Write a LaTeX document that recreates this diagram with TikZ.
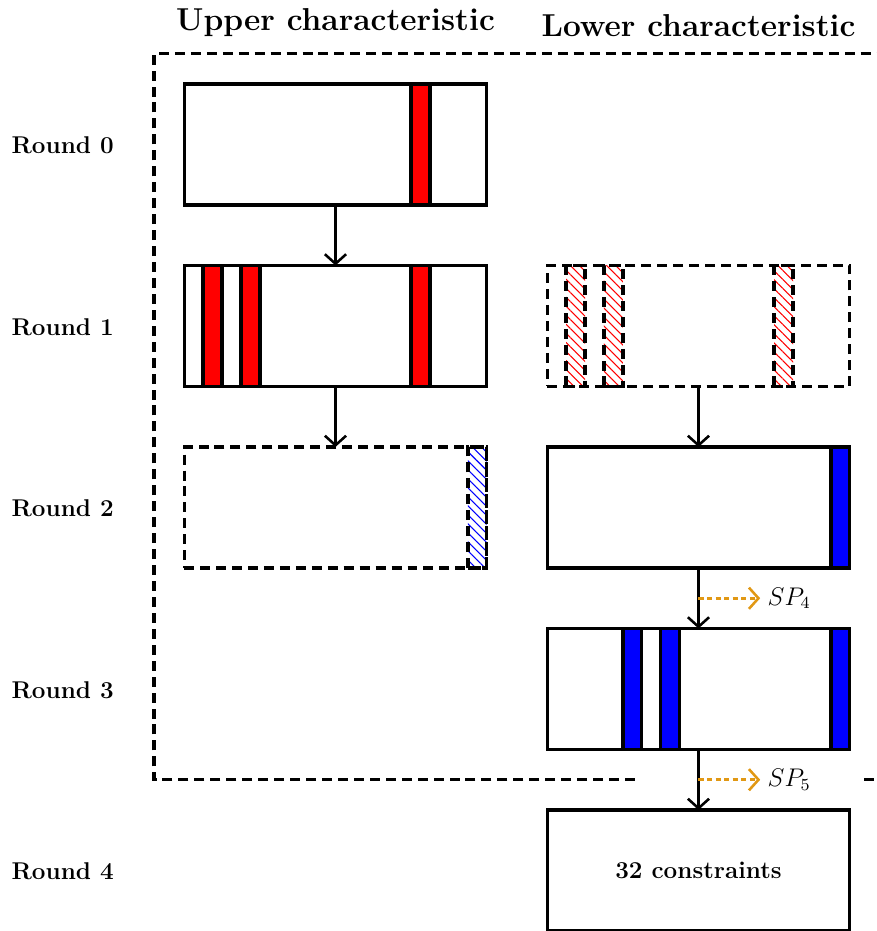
\documentclass[tikz,border=0pt]{standalone}
\usetikzlibrary{arrows.meta,patterns.meta}
\definecolor{spor}{RGB}{225,152,20}
\begin{document}
\begin{tikzpicture}[
  box/.style={draw, line width=1.6pt, minimum width=5cm, minimum height=2cm, inner sep=0pt, outer sep=0pt},
  dbox/.style={box, dash pattern=on 4.7pt off 2.8pt},
  redbar/.style={draw, line width=1.6pt, fill=red},
  bluebar/.style={draw, line width=1.6pt, fill=blue},
  hatchred/.style={draw, line width=1.6pt, dash pattern=on 4.7pt off 2.8pt, pattern={Lines[angle=-45,distance=3pt,line width=0.5pt]}, pattern color=red},
  hatchblue/.style={draw, line width=1.6pt, dash pattern=on 4.7pt off 2.8pt, pattern={Lines[angle=-45,distance=3pt,line width=0.5pt]}, pattern color=blue},
  border/.style={line width=1.6pt, dash pattern=on 4.7pt off 2.8pt},
  flow/.style={-{Straight Barb[length=4.5pt,width=10pt]}, line width=1.2pt},
  sp/.style={-{Straight Barb[length=4.5pt,width=10pt]}, line width=1.2pt, draw=spor, dash pattern=on 2.5pt off 1.5pt},
  rlab/.style={anchor=west, inner sep=0pt, font=\fontsize{11.4}{13.6}\selectfont\bfseries},
  title/.style={anchor=south, inner sep=0pt, font=\fontsize{14.9}{17.8}\selectfont\bfseries},
  splab/.style={anchor=west, font=\fontsize{12}{14}\selectfont}
]
\useasboundingbox (-0.045,0) rectangle (14.45,15.388);
\clip (-0.045,0) rectangle (14.45,15.388);

% titles
\node[title] (tu) at (5.5,14.78) {Upper characteristic};
\node[title] (tl) at (11.5,14.78) {Lower characteristic};

% round labels
\node[rlab] (r0) at (0.14,12.98) {Round 0};
\node[rlab] (r1) at (0.14,9.98) {Round 1};
\node[rlab] (r2) at (0.14,6.98) {Round 2};
\node[rlab] (r3) at (0.14,3.98) {Round 3};
\node[rlab] (r4) at (0.14,0.98) {Round 4};

% dashed border
\draw[border] (10.45,2.5) -- (2.5,2.5) -- (2.5,14.5) -- (15,14.5);
\draw[border] (14.24,2.5) -- (15,2.5);

% bars (upper)
\draw[redbar] (3+12*0.3125,12) rectangle ++(0.3125,2);
\foreach \i in {1,3,12} {\draw[redbar] (3+\i*0.3125,9) rectangle ++(0.3125,2);}
\draw[hatchblue] (3+15*0.3125,6) rectangle ++(0.3125,2);
% bars (lower)
\foreach \i in {1,3,12} {\draw[hatchred] (9+\i*0.3125,9) rectangle ++(0.3125,2);}
\draw[bluebar] (9+15*0.3125,6) rectangle ++(0.3125,2);
\foreach \i in {4,6,15} {\draw[bluebar] (9+\i*0.3125,3) rectangle ++(0.3125,2);}

% boxes
\node[box]  (b0) at (5.5,13) {};
\node[box]  (b1) at (5.5,10) {};
\node[dbox] (b2) at (5.5,7) {};
\node[dbox] (c1) at (11.5,10) {};
\node[box]  (c2) at (11.5,7) {};
\node[box]  (c3) at (11.5,4) {};
\node[box, font=\fontsize{11.4}{13.6}\selectfont\bfseries] (c4) at (11.5,1) {32 constraints};

% flow arrows
\draw[flow] (b0.south) -- (b1.north);
\draw[flow] (b1.south) -- (b2.north);
\draw[flow] (c1.south) -- (c2.north);
\draw[flow] (c2.south) -- (c3.north);
\draw[flow] (c3.south) -- (c4.north);

% SP arrows
\coordinate (s4) at (11.5,5.5);
\coordinate (s5) at (11.5,2.5);
\node[splab] (sp4) at (12.52,5.5) {$SP_4$};
\node[splab] (sp5) at (12.52,2.5) {$SP_5$};
\draw[sp] (s4) -- (sp4.west);
\draw[sp] (s5) -- (sp5.west);
\end{tikzpicture}
\end{document}
